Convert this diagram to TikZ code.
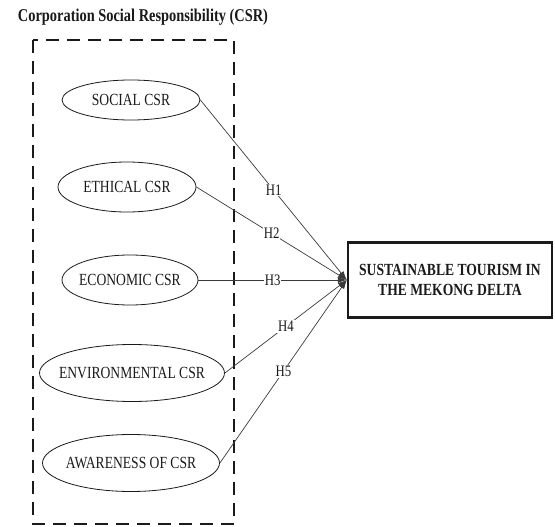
\documentclass[tikz,border=0pt]{standalone}
\usepackage{fontspec}
\setmainfont{Liberation Serif}[FakeStretch=0.8]
\usepackage{xcolor}
\usetikzlibrary{positioning,shapes.geometric,arrows.meta}
\definecolor{ink}{HTML}{1A1A1A}
\definecolor{wire}{HTML}{3A3A3A}
\tikzset{
  frame/.style    = {draw=ink, line width=1.5pt, dash pattern=on 13pt off 8pt},
  construct/.style= {ellipse, draw=ink, line width=0.8pt, inner sep=0pt},
  ctext/.style    = {inner sep=0pt, font=\fontsize{17}{19}\selectfont\color{ink}},
  outcome/.style  = {draw=ink, line width=2.4pt, inner sep=0pt, align=center,
                     minimum width=204pt, minimum height=75pt,
                     font=\fontsize{17}{20}\selectfont\bfseries\color{ink}},
  hyp/.style      = {fill=white, inner sep=1pt, font=\fontsize{16}{18}\selectfont\color{ink}},
  title/.style    = {font=\fontsize{18}{20}\selectfont\bfseries\color{ink}, inner sep=0pt},
  path/.style     = {-{Latex[length=9pt,width=6pt]}, draw=wire, line width=0.7pt},
}
\begin{document}
\begin{tikzpicture}[x=1pt,y=-1pt]
\path[use as bounding box] (0,0) rectangle (555,527);

\node[title] (head) at (143,17) {Corporation Social Responsibility (CSR)};

% ---- CSR dimensions -----------------------------------------------------
\draw[frame] (33,40) rectangle (234,524);

\node[construct, minimum width=138pt, minimum height=40pt,
      label={[ctext]center:SOCIAL CSR}] (social) at (131,100) {};
\node[construct, minimum width=138pt, minimum height=50pt,
      label={[ctext]center:ETHICAL CSR}] (ethical) at (127,187) {};
\node[construct, minimum width=136pt, minimum height=50pt,
      label={[ctext]center:ECONOMIC CSR}] (economic) at (130,280) {};
\node[construct, minimum width=185pt, minimum height=57pt,
      label={[ctext]center:ENVIRONMENTAL CSR}] (environ) at (132,373) {};
\node[construct, minimum width=177pt, minimum height=57pt,
      label={[ctext]center:AWARENESS OF CSR}] (aware) at (131,463) {};

% ---- outcome ------------------------------------------------------------
\node[outcome] (tourism) at (450,280) {SUSTAINABLE TOURISM IN\\THE MEKONG DELTA};

% ---- hypotheses ---------------------------------------------------------
\foreach \src/\hname in {social/H1, ethical/H2, economic/H3, environ/H4, aware/H5} {
  \draw[path] (\src.east) -- node[hyp, pos=0.5] {\hname} (tourism.west);
}

\end{tikzpicture}
\end{document}
